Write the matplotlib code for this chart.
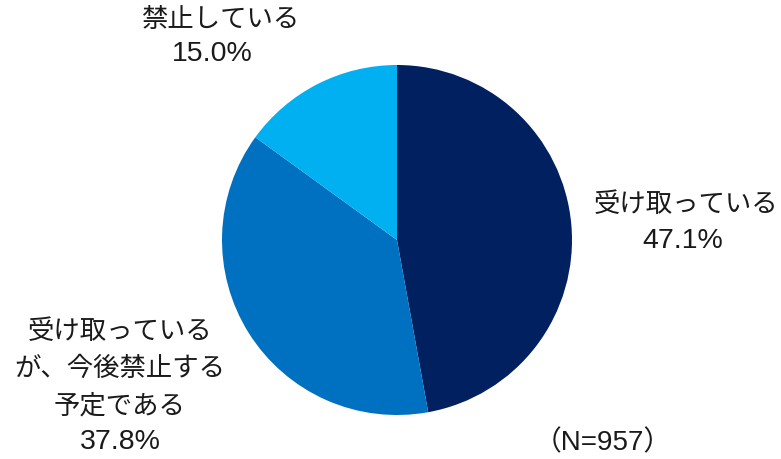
import matplotlib
matplotlib.use("Agg")
import matplotlib.pyplot as plt

categories = ["受け取っている", "受け取っているが、今後禁止する予定である", "禁止している"]
values = [47.1, 37.8, 15.0]
colors = ["#002060", "#0070C0", "#00B0F0"]
note = "（N=957）"

W, H = 781, 459
fig = plt.figure(figsize=(W / 100, H / 100), dpi=100)
ax = fig.add_axes([0, 0, 1, 1])
ax.set_xlim(0, W)
ax.set_ylim(0, H)
ax.set_aspect("equal")
ax.axis("off")

ax.pie(values, colors=colors, startangle=90, counterclock=False,
       center=(397, H - 240), radius=175,
       wedgeprops=dict(linewidth=0))
ax.set_xlim(0, W)
ax.set_ylim(0, H)

fam = ["Liberation Sans", "Noto Sans CJK JP"]
tc = "#1a1a1a"

def put(x, y, s, fs):
    ax.text(x, H - y, s, ha="center", va="center", fontsize=fs,
            family=fam, color=tc)

jfs, nfs = 19, 20.5
# right label
put(686, 205, "受け取っている", jfs)
put(683, 241, f"{values[0]:.1f}%", nfs)
# left label
put(120, 332, "受け取っている", jfs)
put(120, 369, "が、今後禁止する", jfs)
put(120, 406, "予定である", jfs)
put(120, 442, f"{values[1]:.1f}%", nfs)
# top label
put(220, 20, "禁止している", jfs)
put(212, 54, f"{values[2]:.1f}%", nfs)
# note
put(603, 443, note, 20)

fig.savefig("out.png", dpi=100, facecolor="white")
